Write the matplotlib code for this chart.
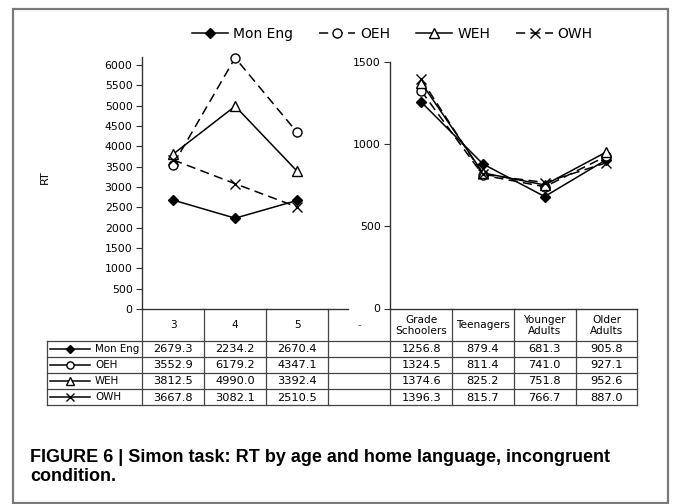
import matplotlib
matplotlib.use('Agg')
import matplotlib.pyplot as plt
from matplotlib.patches import Rectangle
from matplotlib.lines import Line2D

# data
series_names = ['Mon Eng', 'OEH', 'WEH', 'OWH']
kid_ages = ['3', '4', '5']
age_groups = ['Grade\nSchoolers', 'Teenagers', 'Younger\nAdults', 'Older\nAdults']

mon_eng_kids = [2679.3, 2234.2, 2670.4]
oeh_kids = [3552.9, 6179.2, 4347.1]
weh_kids = [3812.5, 4990.0, 3392.4]
owh_kids = [3667.8, 3082.1, 2510.5]

mon_eng_groups = [1256.8, 879.4, 681.3, 905.8]
oeh_groups = [1324.5, 811.4, 741.0, 927.1]
weh_groups = [1374.6, 825.2, 751.8, 952.6]
owh_groups = [1396.3, 815.7, 766.7, 887.0]

left_ticks = list(range(0, 6001, 500))
right_ticks = [0, 500, 1000, 1500]

kids = [mon_eng_kids, oeh_kids, weh_kids, owh_kids]
groups = [mon_eng_groups, oeh_groups, weh_groups, owh_groups]

# look of each series
styles = [
    dict(marker='D', ls='-', mfc='black', ms=5.5),
    dict(marker='o', ls=(0, (6, 3.5)), mfc='white', ms=6.5),
    dict(marker='^', ls='-', mfc='white', ms=7),
    dict(marker='x', ls=(0, (6, 3.5)), mfc='none', ms=7),
]

W, H = 673, 504
plt.rcParams['font.family'] = ['DejaVu Sans']
fig = plt.figure(figsize=(W / 100, H / 100), dpi=100)


def rect(x0, x1, y0, y1):
    # pixel box (top-down y) -> figure fraction
    return [x0 / W, 1 - y1 / H, (x1 - x0) / W, (y1 - y0) / H]


axis_col = '#333333'
grid_col = '#444444'

# left panel: children 3-5, right panel: age groups
axL = fig.add_axes(rect(142.3, 348, 57, 309))
axR = fig.add_axes(rect(390.3, 637.3, 62, 308.5))

handles = []
for vals, st, name in zip(kids, styles, series_names):
    h, = axL.plot(range(len(vals)), vals, color='black', lw=1.1, ls=st['ls'],
                  marker=st['marker'], ms=st['ms'], mfc=st['mfc'], mec='black',
                  mew=1.0, label=name, clip_on=False)
    handles.append(h)
for vals, st in zip(groups, styles):
    axR.plot(range(len(vals)), vals, color='black', lw=1.1, ls=st['ls'],
             marker=st['marker'], ms=st['ms'], mfc=st['mfc'], mec='black',
             mew=1.0, clip_on=False)

axL.set_xlim(-0.5, 2.5 + 20 / 61.9)
axL.set_ylim(0, 6200)
axR.set_xlim(-0.5, 3.5)
axR.set_ylim(0, 1500)
axL.set_yticks(left_ticks)
axR.set_yticks(right_ticks)

for ax in (axL, axR):
    ax.set_facecolor('none')
    ax.set_xticks([])
    for s in ('top', 'right'):
        ax.spines[s].set_visible(False)
    for s in ('left', 'bottom'):
        ax.spines[s].set_color(axis_col)
        ax.spines[s].set_linewidth(1.0)
    ax.tick_params(axis='y', direction='out', length=4, width=0.8,
                   color=axis_col, labelsize=7.8, pad=3)

fig.text(45 / W, 1 - 177 / H, 'RT', rotation=90, ha='center', va='center', fontsize=8)

fig.legend(handles=handles, loc='center', bbox_to_anchor=(392 / W, 1 - 34 / H),
           ncol=4, frameon=False, fontsize=10, handlelength=2.6,
           handletextpad=0.35, columnspacing=1.9)

# data table under both panels, drawn in pixel coordinates
tab = fig.add_axes([0, 0, 1, 1], zorder=-1)
tab.set_xlim(0, W)
tab.set_ylim(H, 0)
tab.axis('off')

left_edges = [142.3 + i * 61.9 for i in range(4)]
right_edges = [390.3 + i * 61.75 for i in range(5)]
col_edges = left_edges + right_edges
head_top, head_bot, row_h = 309, 340.7, 16.1
table_left = 46.7
row_lines = [head_bot + i * row_h for i in range(5)]
table_bot = row_lines[-1]

for x in col_edges:
    tab.plot([x, x], [head_top, table_bot], color=grid_col, lw=0.9)
tab.plot([table_left, table_left], [head_bot, table_bot], color=grid_col, lw=0.9)
for y in row_lines:
    tab.plot([table_left, col_edges[-1]], [y, y], color=grid_col, lw=0.9)

headers = kid_ages + ['-'] + age_groups
for i, lab in enumerate(headers):
    xc = (col_edges[i] + col_edges[i + 1]) / 2
    tab.text(xc, (head_top + head_bot) / 2 + 0.5, lab, ha='center', va='center',
             fontsize=7.6, linespacing=1.1,
             color='#555555' if lab == '-' else 'black')

for r, (name, st) in enumerate(zip(series_names, styles)):
    yc = row_lines[r] + row_h / 2
    tab.add_line(Line2D([50, 90], [yc, yc], color='black', lw=1.1, ls='-'))
    tab.plot([70], [yc], marker=st['marker'], ms=st['ms'] * 0.8, mfc=st['mfc'],
             mec='black', mew=1.0, color='black', ls='none')
    tab.text(95, yc, name, ha='left', va='center', fontsize=7.4)
    row_vals = kids[r] + [None] + groups[r]
    for i, v in enumerate(row_vals):
        if v is None:
            continue
        xc = (col_edges[i] + col_edges[i + 1]) / 2
        tab.text(xc, yc + 0.5, f'{v:.1f}', ha='center', va='center', fontsize=8.2)

# outer frame and caption
tab.add_patch(Rectangle((12.7, 9), 668 - 12.7, 503 - 9, fill=False,
                        edgecolor='#7a7a7a', lw=1.6))
tab.text(30, 467, 'FIGURE 6 | Simon task: RT by age and home language, incongruent\ncondition.',
         ha='left', va='center', fontsize=13, fontweight='bold', linespacing=1.15,
         family=['Liberation Sans', 'DejaVu Sans'])

fig.savefig('out.png', dpi=100)
